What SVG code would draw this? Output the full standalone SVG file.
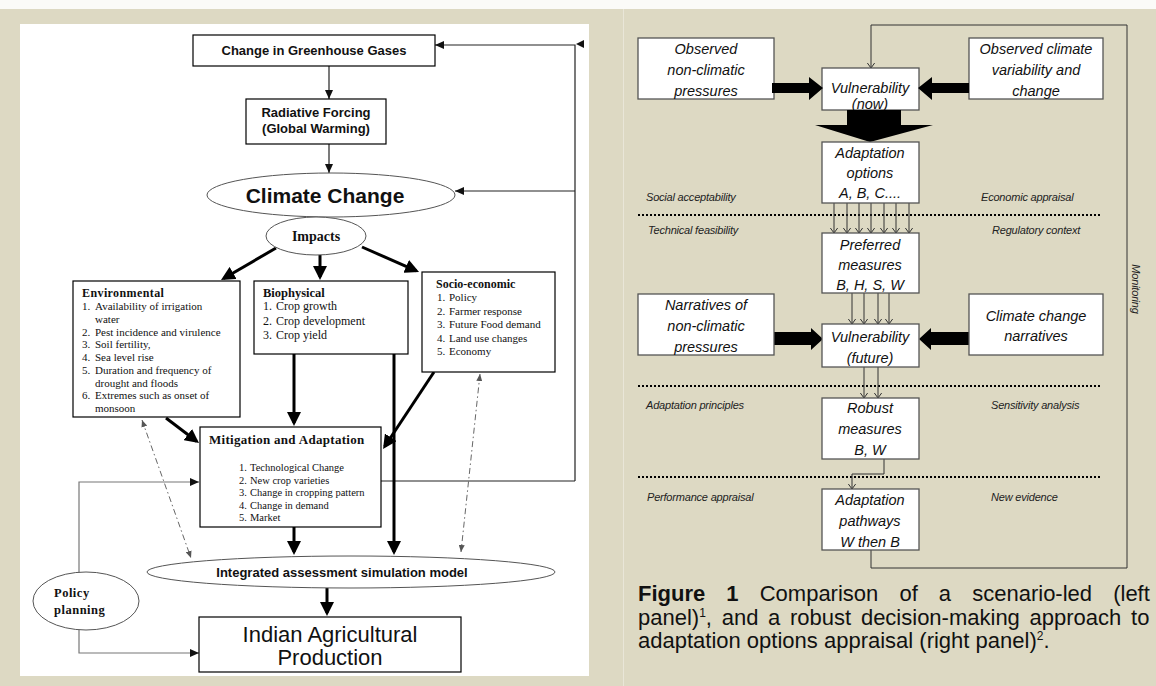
<svg xmlns="http://www.w3.org/2000/svg" width="1156" height="686" viewBox="0 0 1156 686">
<defs>
<style>
.sb{font-family:"Liberation Sans",Arial,sans-serif;font-weight:bold;fill:#111}
.tr{font-family:"Liberation Serif","Times New Roman",serif;fill:#111}
.trb{font-family:"Liberation Serif","Times New Roman",serif;font-weight:bold;fill:#111}
.ri{font-family:"Liberation Sans",Arial,sans-serif;font-style:italic;font-size:14.5px;fill:#111;text-anchor:middle}
.lab{font-family:"Liberation Sans",Arial,sans-serif;font-style:italic;font-size:11px;fill:#222;letter-spacing:-0.2px}
.cap{font-family:"Liberation Sans",Arial,sans-serif;font-size:22px;fill:#111}
.box{fill:#fff;stroke:#000;stroke-width:1.2}
.ell{fill:#fff;stroke:#555;stroke-width:1}
.rbox{fill:#fff;stroke:#555;stroke-width:1.3}
.thk{stroke:#000;stroke-width:3;fill:none}
.thin{stroke:#222;stroke-width:1.2;fill:none}
.gry{stroke:#777;stroke-width:1.2;fill:none}
.dd{stroke:#666;stroke-width:1;fill:none;stroke-dasharray:6 3 1.5 3}
.rt{stroke:#333;stroke-width:1;fill:none}
.dot{stroke:#000;stroke-width:2;stroke-dasharray:2 2;fill:none}
</style>
<marker id="tk" markerUnits="userSpaceOnUse" viewBox="0 0 14 14" markerWidth="14" markerHeight="14" refX="11" refY="7" orient="auto"><path d="M0,0 L14,7 L0,14 z" fill="#000"/></marker>
<marker id="tn" markerUnits="userSpaceOnUse" viewBox="0 0 9 8" markerWidth="9" markerHeight="8" refX="9" refY="4" orient="auto"><path d="M0,0 L9,4 L0,8 z" fill="#111"/></marker>
<marker id="dh" markerUnits="userSpaceOnUse" viewBox="0 0 7 6" markerWidth="7" markerHeight="6" refX="7" refY="3" orient="auto-start-reverse"><path d="M0,0 L7,3 L0,6 z" fill="#555"/></marker>
<marker id="op" markerUnits="userSpaceOnUse" viewBox="0 0 6 8" markerWidth="6" markerHeight="8" refX="5.5" refY="4" orient="auto"><path d="M0,0 L5.5,4 L0,8" fill="none" stroke="#333" stroke-width="1"/></marker>
</defs>

<!-- backgrounds -->
<rect x="0" y="0" width="1156" height="686" fill="#ddd9c3"/>
<rect x="0" y="0" width="1156" height="9" fill="#fbfbf8"/>
<rect x="20" y="24" width="569" height="652" fill="#fff"/>
<line x1="623.5" y1="9" x2="623.5" y2="686" stroke="#e9e6d8" stroke-width="1"/>

<!-- LEFT PANEL connectors -->
<g id="left-connectors">
  <path class="thin" d="M575,481 V45 H435" marker-end="url(#tn)"/>
  <path d="M576,44 L584,40 L584,48 z" fill="#111"/>
  <path class="thin" d="M575,191 H455" marker-end="url(#tn)"/>
  <path class="thin" d="M381,481 H575"/>
  <path class="thin" d="M329,66 V99" marker-end="url(#tn)"/>
  <path class="thin" d="M329,144 V173" marker-end="url(#tn)"/>
  <path class="thk" d="M276,248 L223.6,278.5" marker-end="url(#tk)"/>
  <path class="thk" d="M320,255 V277" marker-end="url(#tk)"/>
  <path class="thk" d="M362,247 L416.3,270.8" marker-end="url(#tk)"/>
  <path class="thk" d="M166,418 L196.6,441.2" marker-end="url(#tk)"/>
  <path class="thk" d="M294,354 V423" marker-end="url(#tk)"/>
  <path class="thk" d="M434,372 L384.7,446.5" marker-end="url(#tk)"/>
  <path class="thk" d="M394,354 V552" stroke-width="4.5" marker-end="url(#tk)"/>
  <path class="thk" d="M294,527 V552" marker-end="url(#tk)"/>
  <path class="thk" d="M327,588 V613" marker-end="url(#tk)"/>
  <path class="dd" d="M142,420 L191,558" marker-start="url(#dh)" marker-end="url(#dh)"/>
  <path class="dd" d="M480,374 L461,552" marker-start="url(#dh)" marker-end="url(#dh)"/>
  <path class="gry" d="M79,573 V482 H199" marker-end="url(#tn)"/>
  <path class="gry" d="M79,630 V653 H199" marker-end="url(#tn)"/>
</g>

<!-- LEFT PANEL nodes -->
<g id="ghg">
  <rect class="box" x="193" y="35" width="242" height="31"/>
  <text class="sb" x="314" y="55" font-size="13" text-anchor="middle">Change in Greenhouse Gases</text>
</g>
<g id="radiative">
  <rect class="box" x="246" y="99" width="140" height="45"/>
  <text class="sb" x="316" y="117" font-size="13" text-anchor="middle">Radiative Forcing</text>
  <text class="sb" x="316" y="133" font-size="13" text-anchor="middle">(Global Warming)</text>
</g>
<g id="climate-change">
  <ellipse class="ell" cx="331" cy="195" rx="124" ry="22"/>
  <text class="sb" x="325" y="203" font-size="21" text-anchor="middle">Climate Change</text>
</g>
<g id="impacts">
  <ellipse class="ell" cx="316" cy="236" rx="50" ry="19"/>
  <text class="trb" x="316" y="241" font-size="14" text-anchor="middle">Impacts</text>
</g>
<g id="environmental">
  <rect class="box" x="73" y="281" width="167" height="136"/>
  <text class="trb" x="82" y="297" font-size="12" letter-spacing="0.4">Environmental</text>
  <g class="tr" font-size="11">
    <text x="82" y="310">1.</text><text x="95" y="310">Availability of irrigation</text>
    <text x="95" y="322.8">water</text>
    <text x="82" y="335.5">2.</text><text x="95" y="335.5">Pest incidence and virulence</text>
    <text x="82" y="348.3">3.</text><text x="95" y="348.3">Soil fertility,</text>
    <text x="82" y="361">4.</text><text x="95" y="361">Sea level rise</text>
    <text x="82" y="373.8">5.</text><text x="95" y="373.8">Duration and frequency of</text>
    <text x="95" y="386.5">drought and floods</text>
    <text x="82" y="399.3">6.</text><text x="95" y="399.3">Extremes such as onset of</text>
    <text x="95" y="412">monsoon</text>
  </g>
</g>
<g id="biophysical">
  <rect class="box" x="254" y="281" width="154" height="73"/>
  <text class="trb" x="263" y="297" font-size="12.5">Biophysical</text>
  <g class="tr" font-size="12">
    <text x="263" y="310">1.</text><text x="276" y="310">Crop growth</text>
    <text x="263" y="325">2.</text><text x="276" y="325">Crop development</text>
    <text x="263" y="339">3.</text><text x="276" y="339">Crop yield</text>
  </g>
</g>
<g id="socio-economic">
  <rect class="box" x="422" y="272" width="133" height="100"/>
  <text class="trb" x="436" y="288" font-size="12">Socio-economic</text>
  <g class="tr" font-size="11">
    <text x="437" y="301">1.</text><text x="449" y="301">Policy</text>
    <text x="437" y="314.5">2.</text><text x="449" y="314.5">Farmer response</text>
    <text x="437" y="328">3.</text><text x="449" y="328">Future Food demand</text>
    <text x="437" y="341.5">4.</text><text x="449" y="341.5">Land use changes</text>
    <text x="437" y="355">5.</text><text x="449" y="355">Economy</text>
  </g>
</g>
<g id="mitigation">
  <rect class="box" x="200" y="427" width="181" height="100"/>
  <text class="trb" x="209" y="444" font-size="13" letter-spacing="0.3">Mitigation and Adaptation</text>
  <g class="tr" font-size="10.5">
    <text x="239" y="471">1.</text><text x="250" y="471">Technological Change</text>
    <text x="239" y="483.5">2.</text><text x="250" y="483.5">New crop varieties</text>
    <text x="239" y="496">3.</text><text x="250" y="496">Change in cropping pattern</text>
    <text x="239" y="508.5">4.</text><text x="250" y="508.5">Change in demand</text>
    <text x="239" y="521">5.</text><text x="250" y="521">Market</text>
  </g>
</g>
<g id="integrated">
  <ellipse class="ell" cx="351" cy="572" rx="204" ry="16"/>
  <text class="sb" x="342" y="577" font-size="13" text-anchor="middle">Integrated assessment simulation model</text>
</g>
<g id="policy">
  <ellipse class="ell" cx="86" cy="601" rx="53" ry="29"/>
  <text class="trb" x="54" y="597" font-size="12.5" letter-spacing="0.5">Policy</text>
  <text class="trb" x="54" y="614" font-size="12.5" letter-spacing="0.5">planning</text>
</g>
<g id="indian">
  <rect class="box" x="199" y="617" width="262" height="55"/>
  <text x="330" y="642" font-family="Liberation Sans, Arial, sans-serif" font-size="22" text-anchor="middle" fill="#111">Indian Agricultural</text>
  <text x="330" y="665" font-family="Liberation Sans, Arial, sans-serif" font-size="22" text-anchor="middle" fill="#111">Production</text>
</g>

<!-- RIGHT PANEL connectors -->
<g id="right-connectors">
  <path class="rt" d="M871,550 V568 H1127 V25 H871 V68" marker-end="url(#op)"/>
  <path class="dot" d="M638,215 H1101"/>
  <path class="dot" d="M638,386 H1101"/>
  <path class="dot" d="M638,477 H1101"/>
  <g class="rt">
    <path d="M834,203 V233" marker-end="url(#op)"/>
    <path d="M847,203 V233" marker-end="url(#op)"/>
    <path d="M859,203 V233" marker-end="url(#op)"/>
    <path d="M871,203 V233" marker-end="url(#op)"/>
    <path d="M884,203 V233" marker-end="url(#op)"/>
    <path d="M896,203 V233" marker-end="url(#op)"/>
    <path d="M909,203 V233" marker-end="url(#op)"/>
    <path d="M852,293 V324" marker-end="url(#op)"/>
    <path d="M864,293 V324" marker-end="url(#op)"/>
    <path d="M878,293 V324" marker-end="url(#op)"/>
    <path d="M889,293 V324" marker-end="url(#op)"/>
    <path d="M864,367 V398" marker-end="url(#op)"/>
    <path d="M878,367 V398" marker-end="url(#op)"/>
    <path d="M884,459 V474 H852 V489" marker-end="url(#op)"/>
  </g>
</g>

<!-- RIGHT PANEL nodes -->
<g id="obs-nonclimatic">
  <rect class="rbox" x="638" y="38" width="136" height="61"/>
  <text class="ri" x="706" y="54">Observed</text>
  <text class="ri" x="706" y="75">non-climatic</text>
  <text class="ri" x="706" y="96">pressures</text>
</g>
<g id="obs-climate">
  <rect class="rbox" x="969" y="38" width="134" height="61"/>
  <text class="ri" x="1036" y="54">Observed climate</text>
  <text class="ri" x="1036" y="75">variability and</text>
  <text class="ri" x="1036" y="96">change</text>
</g>
<g id="vuln-now">
  <rect class="rbox" x="822" y="68" width="97" height="42"/>
  <text class="ri" x="870" y="93">Vulnerability</text>
  <text class="ri" x="870" y="109">(now)</text>
</g>
<g id="big-arrows">
  <path d="M772,83 H809 V77 L823,88 L809,100 V93 H772 z" fill="#000"/>
  <path d="M969,83 H932 V77 L918,88 L932,100 V93 H969 z" fill="#000"/>
  <path d="M847,110 H901 V125 H933 L870,142 L815,125 H847 z" fill="#000"/>
  <path d="M772,332 H811 V328 L823,339 L811,350 V345 H772 z" fill="#000"/>
  <path d="M969,332 H931 V328 L919,339 L931,350 V345 H969 z" fill="#000"/>
</g>
<g id="adapt-options">
  <rect class="rbox" x="822" y="142" width="97" height="61"/>
  <text class="ri" x="870" y="158">Adaptation</text>
  <text class="ri" x="870" y="178">options</text>
  <text class="ri" x="870" y="198">A, B, C....</text>
</g>
<g id="preferred">
  <rect class="rbox" x="822" y="233" width="97" height="60"/>
  <text class="ri" x="870" y="250">Preferred</text>
  <text class="ri" x="870" y="270">measures</text>
  <text class="ri" x="870" y="290">B, H, S, W</text>
</g>
<g id="narratives">
  <rect class="rbox" x="638" y="294" width="136" height="61"/>
  <text class="ri" x="706" y="310">Narratives of</text>
  <text class="ri" x="706" y="331">non-climatic</text>
  <text class="ri" x="706" y="352">pressures</text>
</g>
<g id="cc-narratives">
  <rect class="rbox" x="969" y="294" width="134" height="61"/>
  <text class="ri" x="1036" y="321">Climate change</text>
  <text class="ri" x="1036" y="341">narratives</text>
</g>
<g id="vuln-future">
  <rect class="rbox" x="822" y="324" width="97" height="43"/>
  <text class="ri" x="870" y="342">Vulnerability</text>
  <text class="ri" x="870" y="363">(future)</text>
</g>
<g id="robust">
  <rect class="rbox" x="822" y="398" width="97" height="61"/>
  <text class="ri" x="870" y="413">Robust</text>
  <text class="ri" x="870" y="434">measures</text>
  <text class="ri" x="870" y="455">B, W</text>
</g>
<g id="pathways">
  <rect class="rbox" x="822" y="489" width="97" height="61"/>
  <text class="ri" x="870" y="505">Adaptation</text>
  <text class="ri" x="870" y="526">pathways</text>
  <text class="ri" x="870" y="547">W then B</text>
</g>
<g id="labels">
  <text class="lab" x="646" y="201">Social acceptability</text>
  <text class="lab" x="981" y="201">Economic appraisal</text>
  <text class="lab" x="648" y="234">Technical feasibility</text>
  <text class="lab" x="992" y="234">Regulatory context</text>
  <text class="lab" x="646" y="409">Adaptation principles</text>
  <text class="lab" x="991" y="409">Sensitivity analysis</text>
  <text class="lab" x="647" y="501">Performance appraisal</text>
  <text class="lab" x="991" y="501">New evidence</text>
  <text class="lab" transform="translate(1132,289) rotate(90)" text-anchor="middle">Monitoring</text>
</g>

<!-- caption -->
<g id="caption">
  <text class="cap" x="638" y="601" word-spacing="15"><tspan font-weight="bold">Figure 1</tspan> Comparison of a scenario-led (left</text>
  <text class="cap" x="638" y="625" word-spacing="3.6">panel)<tspan font-size="12" dy="-8">1</tspan><tspan dy="8">, and a robust decision-making approach to</tspan></text>
  <text class="cap" x="638" y="648">adaptation options appraisal (right panel)<tspan font-size="12" dy="-8">2</tspan><tspan dy="8">.</tspan></text>
</g>
</svg>
